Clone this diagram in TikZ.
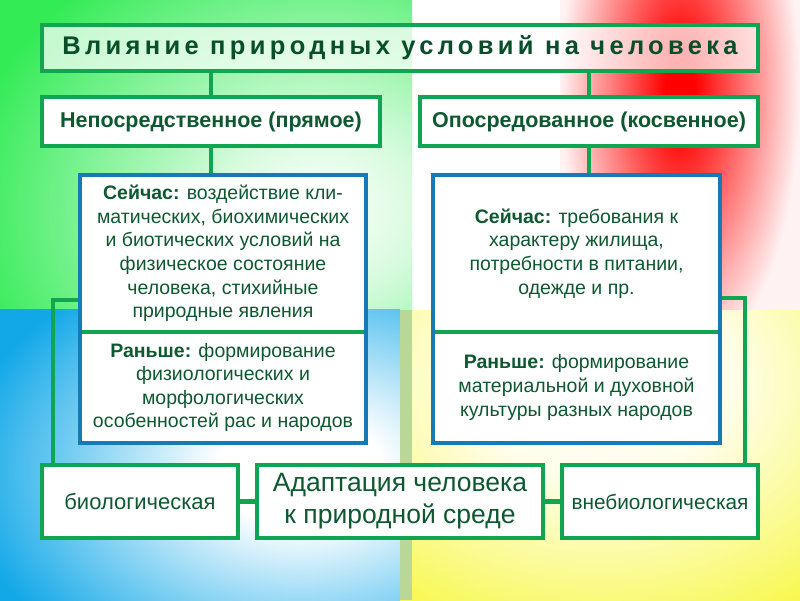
\documentclass[tikz,border=0pt]{standalone}
\usepackage{fontspec}
\setmainfont{Liberation Sans}
\usetikzlibrary{calc}
\definecolor{bgreen}{RGB}{50,235,85}
\definecolor{lgreen}{RGB}{16,165,80}
\definecolor{tgreen}{RGB}{14,88,48}
\definecolor{ttl}{RGB}{8,78,42}
\definecolor{bblue}{RGB}{22,122,182}
\definecolor{sky}{RGB}{18,168,232}
\definecolor{yel}{RGB}{246,246,30}
\definecolor{stripc}{RGB}{185,215,150}
\pgfdeclareradialshading{tlshade}{\pgfpoint{0bp}{0bp}}{color(0bp)=(white); color(7bp)=(white!80!bgreen); color(25bp)=(bgreen); color(50bp)=(bgreen)}
\pgfdeclareradialshading{trshade}{\pgfpoint{0bp}{0bp}}{color(0bp)=(red); color(3bp)=(red); color(25bp)=(red!5); color(50bp)=(red!5)}
\pgfdeclareradialshading{blshade}{\pgfpoint{0bp}{0bp}}{color(0bp)=(white); color(6bp)=(white); color(25bp)=(sky); color(50bp)=(sky)}
\pgfdeclareradialshading{brshade}{\pgfpoint{0bp}{0bp}}{color(0bp)=(white); color(8bp)=(yel!10); color(25bp)=(yel); color(50bp)=(yel)}
\pgfdeclarelayer{bg}
\pgfdeclarelayer{conn}
\pgfsetlayers{bg,conn,main}
\tikzset{
  box/.style={draw=lgreen, line width=4pt, fill=white, inner sep=0pt, align=center, text=tgreen},
  part/.style={fill=white, inner sep=0pt, align=center, text=tgreen, minimum width=286pt,
     font=\fontsize{19.5}{23.6}\selectfont},
  frame/.style={draw=bblue, line width=4pt},
  divider/.style={draw=lgreen, line width=4pt},
  conn/.style={draw=lgreen, line width=4.5pt},
}
\begin{document}
\begin{tikzpicture}[x=1pt,y=-1pt]
\useasboundingbox (0,0) rectangle (800,600);
% nodes
\node[box, fill opacity=0.7, text opacity=1, text=ttl, minimum width=716pt, minimum height=46pt,
  font=\fontsize{25.5}{28}\selectfont\bfseries\addfontfeature{LetterSpace=17}] (title) at (400,48)
  {Влияние природных условий на человека};
\node[box, minimum width=338pt, minimum height=49pt, font=\fontsize{21.5}{24}\selectfont\bfseries] (direct) at (211,121.5)
  {Непосредственное (прямое)};
\node[box, minimum width=338pt, minimum height=49pt, font=\fontsize{21.5}{24}\selectfont\bfseries] (indirect) at (589,121.5)
  {Опосредованное (косвенное)};
\node[part, minimum height=157pt] (nowL) at (223,253.5)
  {\textbf{Сейчас:} воздействие кли-\\матических, биохимических\\и биотических условий на\\физическое состояние\\человека, стихийные\\природные явления};
\node[part, minimum height=111pt] (beforeL) at (223,387.5)
  {\textbf{Раньше:} формирование\\физиологических и\\морфологических\\особенностей рас и народов};
\node[part, minimum height=157pt] (nowR) at (576.5,253.5)
  {\textbf{Сейчас:} требования к\\характеру жилища,\\потребности в питании,\\одежде и пр.};
\node[part, minimum height=111pt] (beforeR) at (576.5,387.5)
  {\textbf{Раньше:} формирование\\материальной и духовной\\культуры разных народов};
\draw[divider] (nowL.south west) -- (nowL.south east);
\draw[divider] (nowR.south west) -- (nowR.south east);
\draw[frame] (nowL.north west) rectangle (beforeL.south east);
\draw[frame] (nowR.north west) rectangle (beforeR.south east);
\node[box, minimum width=196pt, minimum height=73pt, font=\fontsize{22}{25}\selectfont] (bio) at (140,501.5)
  {биологическая};
\node[box, minimum width=286pt, minimum height=73pt, font=\fontsize{26.5}{32}\selectfont] (adapt) at (400,501.5)
  {Адаптация человека\\к природной среде};
\node[box, minimum width=196pt, minimum height=73pt, font=\fontsize{20.8}{24}\selectfont] (nonbio) at (660,501.5)
  {внебиологическая};
% connectors
\begin{pgfonlayer}{conn}
\draw[conn] (title.south -| direct.north) -- (direct.north);
\draw[conn] (title.south -| indirect.north) -- (indirect.north);
\draw[conn] (direct.south) -- (direct.south |- nowL.north);
\draw[conn] (indirect.south) -- (indirect.south |- nowR.north);
\draw[conn] (nowL.west |- 0,300) -| ($(bio.north west)+(13,0)$);
\draw[conn] (nowR.east |- 0,298) -| ($(nonbio.north east)+(-15,0)$);
\draw[conn] (bio) -- (adapt);
\draw[conn] (adapt) -- (nonbio);
\end{pgfonlayer}
% background
\begin{pgfonlayer}{bg}
\begin{scope}
\clip (0,0) rectangle (412,309);
\shade[shading=tlshade] (-40,-90) rectangle (680,510);
\end{scope}
\begin{scope}
\clip (412,0) rectangle (800,310);
\shade[shading=trshade] (560,-190) rectangle (800,370);
\end{scope}
\begin{scope}
\clip (0,309) rectangle (400,600);
\shade[shading=blshade] (-40,240) rectangle (640,700);
\end{scope}
\begin{scope}
\clip (400,310) rectangle (800,600);
\shade[shading=brshade] (180,60) rectangle (1020,700);
\end{scope}
\fill[stripc] (400,310) rectangle (412,600);
\end{pgfonlayer}
\end{tikzpicture}
\end{document}
